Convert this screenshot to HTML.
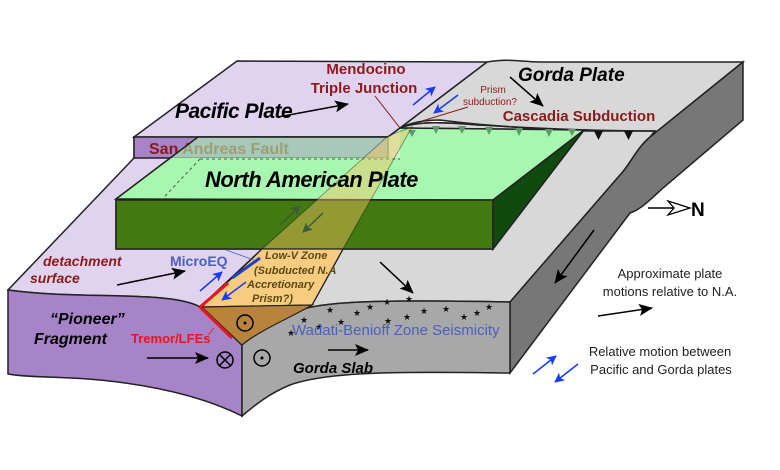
<!DOCTYPE html>
<html><head><meta charset="utf-8"><style>
html,body{margin:0;padding:0;background:#fff;}
svg{display:block;font-family:"Liberation Sans",sans-serif;}
</style></head><body>
<svg width="780" height="470" viewBox="0 0 780 470" xmlns="http://www.w3.org/2000/svg">
<defs>
<marker id="abl" markerWidth="10" markerHeight="10" refX="9" refY="5" orient="auto" markerUnits="userSpaceOnUse"><path d="M0,0 L10,5 L0,10 L2.5,5z" fill="#1a3cff"/></marker>
<marker id="ag" markerWidth="10" markerHeight="10" refX="9" refY="5" orient="auto" markerUnits="userSpaceOnUse"><path d="M0,0 L10,5 L0,10 L2.5,5z" fill="#3a5a3a"/></marker>
<marker id="abig" markerWidth="14" markerHeight="12" refX="13" refY="6" orient="auto" markerUnits="userSpaceOnUse"><path d="M0,0 L14,6 L0,12 L3,6z" fill="#000"/></marker>
</defs>
<!-- lower purple left plate top -->
<path d="M134,158 L8,290 C80,300 170,290 200,307 L262,249 L116,249 L116,199 L198,137 L134,137z" fill="#e0d3f0" stroke="#222" stroke-width="1.5"/>
<!-- left purple face -->
<path d="M8,290 C80,300 170,290 200,307 C215,315 230,335 242,345 L242,416 C200,395 150,385 100,380 C60,376 30,378 8,374z" fill="#a783c8" stroke="#222" stroke-width="1.5"/>
<!-- gray top surface -->
<path d="M400,128 C420,120 450,123 480,125 L655,131 L743,62 L650,137 C635,150 630,165 620,175 L510,302 C400,300 330,300 300,310 C275,318 255,330 242,345 L312,305 L343,249 L493,249 L584,130 L400,128z" fill="#d8d8d8" stroke="#222" stroke-width="1.5"/>
<!-- gorda top -->
<path d="M400,128 L487,62 C510,58 520,62 540,62 L743,62 L650,137 L655,131 L580,131 C520,128 470,124 440,120 C420,120 408,124 400,128z" fill="#d8d8d8" stroke="#222" stroke-width="1.5"/>
<path d="M400,128 C420,120 450,123 480,125 C530,128 600,131 655,131" fill="none" stroke="#222" stroke-width="1.5"/>
<!-- dark right face -->
<path d="M743,62 L743,120 L663,188 C650,200 640,210 630,213 L510,373 L510,302 L620,175 C630,165 635,150 650,137z" fill="#777" stroke="#222" stroke-width="1.5"/>
<!-- slab front face -->
<path d="M242,345 C255,330 275,318 300,310 C330,300 400,300 510,302 L510,373 C420,372 330,370 290,385 C270,393 255,405 242,416z" fill="#a8a8a8" stroke="#222" stroke-width="1.5"/>
<!-- pacific top -->
<path d="M237,61 L487,62 L400,128 L388,137 L134,137z" fill="#e0d3f0" stroke="#222" stroke-width="1.5"/>
<rect x="134" y="137" width="254" height="21" fill="#a783c8" stroke="#222" stroke-width="1.5"/>
<text x="149" y="154" font-size="16" font-weight="bold" fill="#8b1a1a">San Andreas Fault</text>
<!-- green NA plate: opaque part below strip -->
<path d="M116,199 L170,158 L400,158 L400,128 L584,130 L493,200z" fill="#a8f7b0"/>
<!-- translucent over strip -->
<path d="M170,158 L198,137 L388,137 L400,128 L400,158z" fill="#a8f7b0" opacity="0.6"/>
<path d="M116,199 L198,137 L388,137 L400,128 L584,130 L493,200z" fill="none" stroke="#222" stroke-width="1.5"/>
<line x1="200" y1="159" x2="400" y2="159" stroke="#555" stroke-dasharray="3,3"/>
<line x1="200" y1="159" x2="118" y2="246" stroke="#555" stroke-dasharray="3,3"/>
<rect x="116" y="200" width="377" height="49" fill="#437a0f" stroke="#222" stroke-width="1.5"/>
<path d="M493,200 L584,130 L493,249z" fill="#0f4a0f" stroke="#222" stroke-width="1.5"/>
<!-- subduction triangles -->
<g fill="#5e9a6a">
<path d="M408,130 l8,0 l-4,7z"/><path d="M432,126 l8,0 l-4,8z"/><path d="M458,126 l8,0 l-4,8z"/><path d="M485,127 l8,0 l-4,8z"/><path d="M515,128 l8,0 l-4,8z"/><path d="M545,129 l8,0 l-4,8z"/><path d="M568,129 l8,0 l-4,7z"/>
</g>
<path d="M594,131 l9,0 l-4.5,9z M624,131 l9,0 l-4.5,9z" fill="#111"/>
<!-- translucent low-v band on green -->
<path d="M262,249 L388,136 L412,127 L343,249z" fill="#f5c060" opacity="0.45" stroke="#222" stroke-width="1"/>
<!-- orange zone -->
<path d="M262,249 L343,249 L312,305 L202,307z" fill="#f8cc80" stroke="#222" stroke-width="1.2"/>
<path d="M202,307 L312,305 C290,318 260,330 242,345z" fill="#b8843c" stroke="#222" stroke-width="1.2"/>
<!-- red / blue fault lines -->
<path d="M200,307 L228,283 M200,307 L232,338" stroke="#e8161e" stroke-width="3" fill="none"/>
<line x1="232" y1="278" x2="260" y2="258" stroke="#2040c0" stroke-width="3"/>
<line x1="226" y1="250" x2="254" y2="260" stroke="#4a5fc0" stroke-width="0.8"/>
<line x1="208" y1="335" x2="214" y2="328" stroke="#e8161e" stroke-width="0.8"/>
<!-- leader lines -->
<line x1="375" y1="96" x2="400" y2="128" stroke="#8b1a1a" stroke-width="1"/>
<line x1="468" y1="107" x2="422" y2="121" stroke="#8b1a1a" stroke-width="1"/>
<!-- black arrows -->
<g stroke="#000" stroke-width="1.5" fill="none">
<line x1="278" y1="117" x2="348" y2="104" marker-end="url(#abig)"/>
<line x1="510" y1="77" x2="543" y2="106" marker-end="url(#abig)"/>
<line x1="380" y1="262" x2="413" y2="293" marker-end="url(#abig)"/>
<line x1="594" y1="230" x2="555" y2="283" marker-end="url(#abig)"/>
<line x1="117" y1="285" x2="185" y2="271" marker-end="url(#abig)"/>
<line x1="147" y1="358" x2="208" y2="358" marker-end="url(#abig)"/>
<line x1="328" y1="350" x2="368" y2="350" marker-end="url(#abig)"/>
<line x1="598" y1="316" x2="652" y2="308" marker-end="url(#abig)"/>
<line x1="648" y1="208" x2="676" y2="208"/>
</g>
<path d="M668,201 L690,208 L668,215 L674,208z" fill="#fff" stroke="#000" stroke-width="1.3"/>
<text x="691" y="216" font-size="19" font-weight="bold">N</text>
<!-- green arrows -->
<line x1="280" y1="225" x2="300" y2="206" stroke="#3a5a3a" stroke-width="1.5" marker-end="url(#ag)"/>
<line x1="323" y1="213" x2="303" y2="232" stroke="#3a5a3a" stroke-width="1.5" marker-end="url(#ag)"/>
<!-- blue arrows -->
<g stroke="#1a3cff" stroke-width="1.6">
<line x1="413" y1="105" x2="435" y2="87" marker-end="url(#abl)"/>
<line x1="458" y1="95" x2="434" y2="113" marker-end="url(#abl)"/>
<line x1="200" y1="291" x2="222" y2="272" marker-end="url(#abl)"/>
<line x1="246" y1="282" x2="222" y2="300" marker-end="url(#abl)"/>
<line x1="533" y1="374" x2="556" y2="356" marker-end="url(#abl)"/>
<line x1="578" y1="364" x2="555" y2="382" marker-end="url(#abl)"/>
</g>
<!-- circles -->
<g fill="none" stroke="#000" stroke-width="1.5">
<circle cx="245" cy="323" r="8"/><circle cx="262" cy="358" r="8"/><circle cx="225" cy="360" r="8"/>
<path d="M219,354 L231,366 M231,354 L219,366"/>
</g>
<circle cx="245" cy="323" r="1.5"/><circle cx="262" cy="358" r="1.5"/>
<!-- stars -->
<g font-size="9" fill="#111">
<text x="326" y="313">★</text><text x="300" y="323">★</text><text x="287" y="336">★</text><text x="315" y="330">★</text><text x="337" y="325">★</text><text x="353" y="316">★</text><text x="366" y="310">★</text><text x="384" y="324">★</text><text x="403" y="320">★</text><text x="420" y="314">★</text><text x="442" y="312">★</text><text x="460" y="320">★</text><text x="473" y="316">★</text><text x="485" y="310">★</text><text x="405" y="302">★</text><text x="383" y="305">★</text>
</g>
<!-- labels -->
<g font-weight="bold" font-style="italic">
<text x="175" y="118" font-size="21" letter-spacing="-0.5">Pacific Plate</text>
<text x="205" y="187" font-size="22" letter-spacing="-0.5">North American Plate</text>
<text x="518" y="81" font-size="19">Gorda Plate</text>
<text x="43" y="266" font-size="14" fill="#8b1a1a">detachment</text>
<text x="30" y="283" font-size="14" fill="#8b1a1a">surface</text>
<text x="50" y="324" font-size="16">“Pioneer”</text>
<text x="34" y="344" font-size="16">Fragment</text>
<text x="293" y="373" font-size="15">Gorda Slab</text>
</g>
<g font-weight="bold" fill="#8b1a1a" font-size="15" text-anchor="middle">
<text x="366" y="74">Mendocino</text>
<text x="364" y="93">Triple Junction</text>
<text x="579" y="121">Cascadia Subduction</text>
</g>
<text x="493" y="93" font-size="10" fill="#8b1a1a" text-anchor="middle">Prism</text>
<text x="490" y="105" font-size="10" fill="#8b1a1a" text-anchor="middle">subduction?</text>
<text x="170" y="266" font-size="14" font-weight="bold" fill="#4a5fc0">MicroEQ</text>
<text x="131" y="343" font-size="13" font-weight="bold" fill="#e8161e">Tremor/LFEs</text>
<g font-size="11" font-style="italic" fill="#5a4a10" font-weight="bold">
<text x="265" y="259">Low-V Zone</text>
<text x="254" y="274">(Subducted N.A</text>
<text x="247" y="288">Accretionary</text>
<text x="252" y="302">Prism?)</text>
</g>
<text x="292" y="335" font-size="15" fill="#4a5fc0">Wadati-Benioff Zone Seismicity</text>
<g font-size="13" fill="#222" text-anchor="middle">
<text x="670" y="278">Approximate plate</text>
<text x="670" y="296">motions relative to N.A.</text>
<text x="660" y="356">Relative motion between</text>
<text x="661" y="374">Pacific and Gorda plates</text>
</g>
</svg>
</body></html>
